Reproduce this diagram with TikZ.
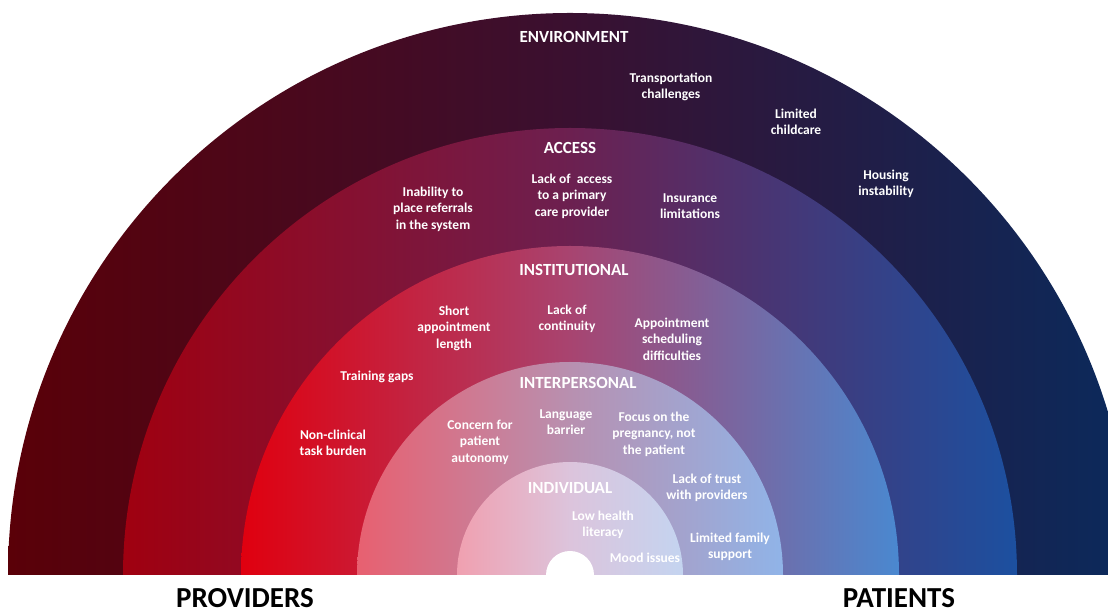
\documentclass[tikz,border=0pt]{standalone}
\usepackage{fontspec}
\setmainfont{Carlito}
\definecolor{envL}{HTML}{5A0008}\definecolor{envM}{HTML}{3A1030}\definecolor{envR}{HTML}{0A2A5C}
\definecolor{accL}{HTML}{A00010}\definecolor{accM}{HTML}{6C2050}\definecolor{accR}{HTML}{1C50A0}
\definecolor{insL}{HTML}{E0000F}\definecolor{insM}{HTML}{A84470}\definecolor{insR}{HTML}{4A88D0}
\definecolor{intL}{HTML}{E86070}\definecolor{intM}{HTML}{B890B0}\definecolor{intR}{HTML}{90B4E8}
\definecolor{indL}{HTML}{F0A0B0}\definecolor{indM}{HTML}{DCC4DC}\definecolor{indR}{HTML}{C4D4F0}
\begin{document}
\begin{tikzpicture}[x=1pt,y=1pt,
  lbl/.style={text=white,align=center,font=\fontsize{13.5}{16.5}\selectfont\bfseries,inner sep=0pt},
  ttl/.style={text=white,align=center,font=\fontsize{17}{20}\selectfont\bfseries,inner sep=0pt},
  side/.style={text=black,font=\fontsize{29}{33}\selectfont\bfseries,inner sep=0pt}]
\useasboundingbox (0,0) rectangle (1108,615);
\clip (0,0) rectangle (1108,615);
\coordinate (c) at (570,40);
% rings
\shade[left color=envL,right color=envR,middle color=envM] ([xshift=-562pt]c) arc[start angle=180,end angle=0,radius=562] -- cycle;
\shade[left color=accL,right color=accR,middle color=accM] ([xshift=-447pt]c) arc[start angle=180,end angle=0,radius=447] -- cycle;
\shade[left color=insL,right color=insR,middle color=insM] ([xshift=-329pt]c) arc[start angle=180,end angle=0,radius=329] -- cycle;
\shade[left color=intL,right color=intR,middle color=intM] ([xshift=-213pt]c) arc[start angle=180,end angle=0,radius=213] -- cycle;
\shade[left color=indL,right color=indR,middle color=indM] ([xshift=-113pt]c) arc[start angle=180,end angle=0,radius=113] -- cycle;
\fill[white] ([xshift=-24pt]c) arc[start angle=180,end angle=0,radius=24] -- cycle;
% environment
\node[ttl] (env) at (574,578) {ENVIRONMENT};
\node[lbl] (trans) at (671,528) {Transportation\\challenges};
\node[lbl] (child) at (796,493) {Limited\\childcare};
\node[lbl] (house) at (886,431) {Housing\\instability};
% access
\node[ttl] (acc) at (570,467) {ACCESS};
\node[lbl] (refer) at (433,406) {Inability to\\place referrals\\in the system};
\node[lbl] (pcp) at (572,419) {Lack of\ \ access\\to a primary\\care provider};
\node[lbl] (insur) at (690,409) {Insurance\\limitations};
% institutional
\node[ttl] (inst) at (574,345) {INSTITUTIONAL};
\node[lbl] (short) at (454,287) {Short\\appointment\\length};
\node[lbl] (cont) at (567,296) {Lack of\\continuity};
\node[lbl] (sched) at (672,276) {Appointment\\scheduling\\difficulties};
\node[lbl] (train) at (377,238) {Training gaps};
\node[lbl] (task) at (333,172) {Non-clinical\\task burden};
% interpersonal
\node[ttl] (inter) at (578,232) {INTERPERSONAL};
\node[lbl] (auto) at (480,173) {Concern for\\patient\\autonomy};
\node[lbl] (lang) at (566,193) {Language\\barrier};
\node[lbl] (preg) at (654,181) {Focus on the\\pregnancy, not\\the patient};
\node[lbl] (trust) at (707,127) {Lack of trust\\with providers};
% individual
\node[ttl] (indiv) at (570,127) {INDIVIDUAL};
\node[lbl] (lit) at (603,90) {Low health\\literacy};
\node[lbl] (mood) at (645,57) {Mood issues};
\node[lbl] (fam) at (730,68) {Limited family\\support};
% sides
\node[side] (prov) at (245,17) {PROVIDERS};
\node[side] (pat) at (899,17) {PATIENTS};
\end{tikzpicture}
\end{document}
